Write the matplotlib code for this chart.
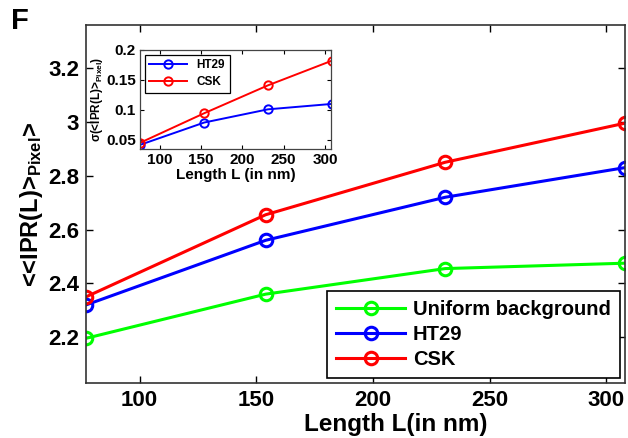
import numpy as np
import matplotlib
matplotlib.use('Agg')
import matplotlib.pyplot as plt

plt.rcParams['font.family'] = ['Liberation Sans', 'DejaVu Sans']
plt.rcParams['font.weight'] = 'bold'
plt.rcParams['mathtext.fontset'] = 'custom'
plt.rcParams['mathtext.rm'] = 'Liberation Sans:bold'
plt.rcParams['mathtext.it'] = 'Liberation Sans:bold'
plt.rcParams['mathtext.bf'] = 'Liberation Sans:bold'

# Longueurs (nm)
length_nm = [77, 154, 231, 308]

# Panneau principal
uniform = [2.196, 2.36, 2.455, 2.475]
ht29 = [2.32, 2.56, 2.72, 2.83]
csk = [2.35, 2.655, 2.85, 2.995]

# Encart : écart-type
ht29_sigma = [0.042, 0.079, 0.101, 0.110]
csk_sigma = [0.0455, 0.0945, 0.141, 0.182]

main_xticks = [100, 150, 200, 250, 300]
main_yticks = [2.2, 2.4, 2.6, 2.8, 3.0, 3.2]
main_yticklabels = ['2.2', '2.4', '2.6', '2.8', '3', '3.2']
inset_yticks = [0.05, 0.1, 0.15, 0.2]
inset_yticklabels = ['0.05', '0.1', '0.15', '0.2']

fig = plt.figure(figsize=(6.28, 4.38), dpi=100)
ax = fig.add_axes([0.137, 0.1256, 0.858, 0.8174])

ax.plot(length_nm, uniform, '-o', color=(0, 1, 0), lw=2.2, ms=9, mfc='none', mew=2.2,
        label='Uniform background')
ax.plot(length_nm, ht29, '-o', color=(0, 0, 1), lw=2.2, ms=9, mfc='none', mew=2.2, label='HT29')
ax.plot(length_nm, csk, '-o', color=(1, 0, 0), lw=2.2, ms=9, mfc='none', mew=2.2, label='CSK')

ax.set_xlim(77, 308)
ax.set_ylim(2.03, 3.36)
ax.set_xticks(main_xticks)
ax.set_yticks(main_yticks)
ax.set_yticklabels(main_yticklabels)
ax.tick_params(direction='in', top=True, right=True, length=5, width=1, labelsize=16, pad=5)
for s in ax.spines.values():
    s.set_linewidth(1.2)
    s.set_color('#333333')
ax.set_xlabel('Length L(in nm)', fontsize=17.5, fontweight='bold', labelpad=0)
ax.xaxis.set_label_coords(0.575, -0.083)
ax.set_ylabel('<<IPR(L)>$_{\\mathrm{Pixel}}$>', fontsize=17, fontweight='bold', labelpad=2)

leg = ax.legend(loc='lower right', fontsize=14.5, handlelength=3.4, handletextpad=0.4,
                fancybox=False, framealpha=1, edgecolor='black', borderaxespad=0.25,
                labelspacing=0.3, borderpad=0.45)
leg.get_frame().set_linewidth(1.2)

fig.text(0.018, 0.985, 'F', fontsize=21, fontweight='bold', va='top', ha='left')

# Encart
ins = fig.add_axes([0.223, 0.660, 0.304, 0.226])
ins.plot(length_nm, ht29_sigma, '-o', color=(0, 0, 1), lw=1.4, ms=6, mfc='none', mew=1.4, label='HT29')
ins.plot(length_nm, csk_sigma, '-o', color=(1, 0, 0), lw=1.4, ms=6, mfc='none', mew=1.4, label='CSK')
ins.set_xlim(76.5, 307)
ins.set_ylim(0.035, 0.2)
ins.set_xticks(main_xticks)
ins.set_yticks(inset_yticks)
ins.set_yticklabels(inset_yticklabels)
ins.tick_params(direction='in', top=True, right=True, length=3, width=0.8, labelsize=11, pad=3)
for s in ins.spines.values():
    s.set_linewidth(0.9)
    s.set_color('#444444')
ins.set_xlabel('Length L (in nm)', fontsize=11, fontweight='bold', labelpad=1)
ins.set_ylabel('σ(<IPR(L)>$_{\\mathrm{Pixel}}$)', fontsize=8.5, fontweight='bold', labelpad=1)
ileg = ins.legend(loc='upper left', fontsize=8.5, handlelength=3.2, fancybox=False,
                  framealpha=1, edgecolor='black', borderaxespad=0.4, labelspacing=0.4)
ileg.get_frame().set_linewidth(0.9)

fig.savefig('out.png', dpi=100)
